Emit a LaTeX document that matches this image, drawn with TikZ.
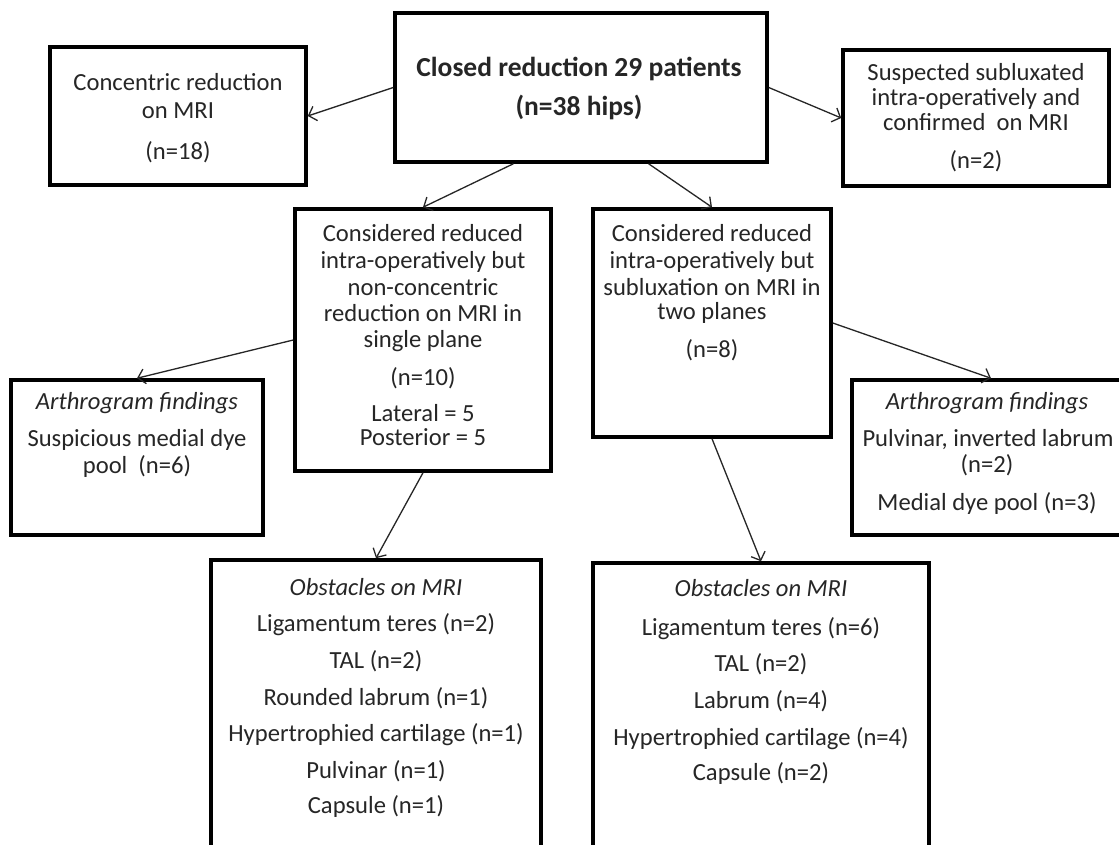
\documentclass[tikz,border=0pt]{standalone}
\usepackage{fontspec}
\setmainfont{Carlito}
\usetikzlibrary{arrows.meta,calc}
\newcommand\mkbox[5]{\node[box, minimum width={#4-#2}, minimum height={#5-#3}] (#1) at ({(#2+#4)/2},{(#3+#5)/2}) {};}
\begin{document}
\begin{tikzpicture}[x=1pt,y=-1pt,
  box/.style={draw=black, line width=3.5pt, inner sep=0pt, rectangle},
  txt/.style={anchor=base, inner sep=0pt, text=black!85, font=\fontsize{24.6}{28}\selectfont},
  ttl/.style={txt, font=\fontsize{27.5}{30}\selectfont\bfseries},
  itl/.style={txt, font=\fontsize{24.6}{28}\selectfont\itshape},
  conn/.style={draw=black!85, line width=1.3pt, -{Straight Barb[length=7pt,width=15pt,line width=1.3pt]}}]
\clip (0,0) rectangle (1119,845);
\fill[white] (0,0) rectangle (1119,845);
% boxes
\mkbox{top}{395}{13}{767}{162}
\mkbox{cmri}{50}{47}{306}{185}
\mkbox{sub}{843}{50}{1109}{186}
\mkbox{mone}{295}{209}{551}{471}
\mkbox{mtwo}{593}{209}{831}{437}
\mkbox{arthL}{11}{380}{263}{535}
\mkbox{arthR}{852}{380}{1130}{535}
\mkbox{obsL}{211}{560}{541}{870}
\mkbox{obsR}{593}{563}{929}{870}
% top
\node[ttl] (t1) at (579,77) {Closed reduction 29 patients};
\node[ttl] (t2) at (579,116) {(n=38 hips)};
% concentric
\node[txt] (c1) at (178,91) {Concentric reduction};
\node[txt] (c2) at (178,119) {on MRI};
\node[txt] (c3) at (178,160) {(n=18)};
% suspected
\node[txt] (s1) at (976,81) {Suspected subluxated};
\node[txt] (s2) at (976,106) {intra-operatively and};
\node[txt] (s3) at (976,131) {confirmed\ \ on MRI};
\node[txt] (s4) at (976,169) {(n=2)};
% mid left
\node[txt] (a1) at (423,241) {Considered reduced};
\node[txt] (a2) at (423,269) {intra-operatively but};
\node[txt] (a3) at (423,295) {non-concentric};
\node[txt] (a4) at (423,321) {reduction on MRI in};
\node[txt] (a5) at (423,347) {single plane};
\node[txt] (a6) at (423,385) {(n=10)};
\node[txt] (a7) at (423,421) {Lateral = 5};
\node[txt] (a8) at (423,445) {Posterior = 5};
% mid right
\node[txt] (b1) at (712,241) {Considered reduced};
\node[txt] (b2) at (712,269) {intra-operatively but};
\node[txt] (b3) at (712,295) {subluxation on MRI in};
\node[txt] (b4) at (712,319) {two planes};
\node[txt] (b5) at (712,357) {(n=8)};
% arth left
\node[itl] (l1) at (137,409) {Arthrogram findings};
\node[txt] (l2) at (137,446) {Suspicious medial dye};
\node[txt] (l3) at (137,473) {pool\ \ (n=6)};
% arth right
\node[itl] (r1) at (987,409) {Arthrogram findings};
\node[txt] (r2) at (988,446) {Pulvinar, inverted labrum};
\node[txt] (r3) at (987,472) {(n=2)};
\node[txt] (r4) at (987,510) {Medial dye pool (n=3)};
% obstacles left
\node[itl] (o1) at (376,595) {Obstacles on MRI};
\node[txt] (o2) at (376,631) {Ligamentum teres (n=2)};
\node[txt] (o3) at (376,668) {TAL (n=2)};
\node[txt] (o4) at (376,705) {Rounded labrum (n=1)};
\node[txt] (o5) at (376,741) {Hypertrophied cartilage (n=1)};
\node[txt] (o6) at (376,778) {Pulvinar (n=1)};
\node[txt] (o7) at (376,813) {Capsule (n=1)};
% obstacles right
\node[itl] (p1) at (761,596) {Obstacles on MRI};
\node[txt] (p2) at (761,635) {Ligamentum teres (n=6)};
\node[txt] (p3) at (761,671) {TAL (n=2)};
\node[txt] (p4) at (761,708) {Labrum (n=4)};
\node[txt] (p5) at (761,745) {Hypertrophied cartilage (n=4)};
\node[txt] (p6) at (761,780) {Capsule (n=2)};
% connectors
\draw[conn] (top.west) -- (cmri.east);
\draw[conn] (top.east) -- (sub.west);
\draw[conn] ($(top.south west)!0.32!(top.south east)$) -- (mone.north);
\draw[conn] ($(top.south west)!0.68!(top.south east)$) -- (mtwo.north);
\draw[conn] (mone.west) -- (arthL.north);
\draw[conn] (mtwo.east) -- (arthR.north);
\draw[conn] (mone.south) -- (obsL.north);
\draw[conn] (mtwo.south) -- (obsR.north);
\end{tikzpicture}
\end{document}
